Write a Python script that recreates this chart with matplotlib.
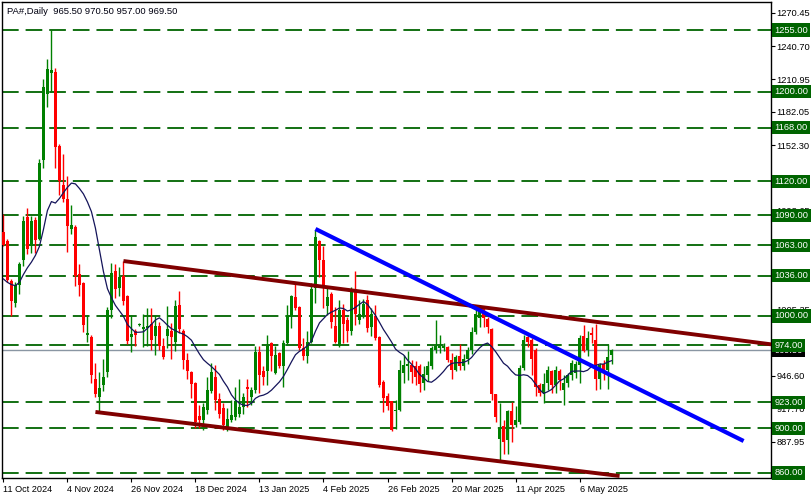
import matplotlib
matplotlib.use("Agg")
import matplotlib.pyplot as plt
import numpy as np
import pandas as pd
from matplotlib.transforms import blended_transform_factory

plt.rcParams["font.family"] = ["Liberation Sans", "DejaVu Sans"]
plt.rcParams["lines.scale_dashes"] = False

# daily OHLC, PA# (palladium), 11 Oct 2024 .. 16 May 2025
opens = [1075, 1067, 1031, 1012, 1028, 1050, 1088, 1062, 1086, 1069,
         1139, 1198, 1217, 1218, 1152, 1117, 1104, 1078, 1079, 1037,
         1029, 983, 981, 944, 928, 938, 950, 1005, 1040, 1025,
         1036, 1018, 981, 987, 992, 988, 989, 993, 982, 991,
         973, 982, 987, 977, 1010, 987, 961, 950, 940, 911,
         907, 916, 933, 946, 926, 918, 899, 907, 910, 913,
         919, 937, 928, 934, 968, 951, 951, 976, 949, 967,
         955, 976, 1000, 1017, 1008, 971, 964, 977, 1025, 1067,
         1050, 1009, 1020, 991, 973, 1005, 996, 987, 1024, 996,
         1001, 1014, 990, 1000, 981, 941, 929, 924, 915, 916,
         949, 955, 956, 955, 955, 940, 947, 955, 970, 971,
         971, 972, 961, 952, 964, 955, 962, 970, 986, 998,
         1006, 997, 988, 930, 890, 902, 889, 915, 903, 905,
         954, 981, 979, 970, 938, 931, 940, 951, 938, 951,
         934, 940, 947, 949, 956, 982, 970, 985, 979, 944,
         957, 952, 965.5]
highs = [1091, 1069, 1033, 1030, 1048, 1089, 1096, 1089, 1088, 1140,
         1211, 1229, 1255, 1221, 1153, 1144, 1125, 1099, 1081, 1046,
         1030, 1001, 983, 958, 950, 962, 1008, 1047, 1046, 1044,
         1049, 1019, 1001, 988, 994, 1002, 1007, 1007, 1001, 995,
         980, 1009, 994, 1014, 1022, 988, 967, 951, 941, 921,
         922, 946, 958, 956, 931, 922, 918, 925, 937, 944,
         931, 944, 937, 973, 973, 955, 983, 977, 973, 968,
         979, 1010, 1019, 1030, 1009, 980, 987, 1029, 1077, 1068,
         1062, 1025, 1021, 1008, 1014, 1011, 999, 1026, 1040, 1014,
         1015, 1019, 1007, 1010, 982, 943, 931, 924, 925, 961,
         965, 969, 961, 960, 957, 955, 960, 973, 996, 983,
         976, 973, 967, 965, 975, 966, 972, 990, 1006, 1008,
         1008, 999, 989, 930, 922, 907, 916, 923, 920, 956,
         983, 984, 980, 971, 940, 949, 955, 952, 955, 953,
         947, 949, 961, 960, 983, 992, 987, 990, 993, 958,
         961, 975, 970.5]
lows = [1062, 1030, 1000, 1008, 1020, 1045, 1055, 1056, 1056, 1068,
        1132, 1186, 1200, 1132, 1108, 1102, 1057, 1073, 1027, 1018,
        986, 977, 940, 928, 914, 933, 946, 998, 1016, 1018,
        1010, 975, 968, 973, 991, 972, 973, 970, 965, 970,
        962, 971, 962, 969, 985, 953, 944, 927, 900, 900,
        898, 913, 931, 916, 909, 898, 897, 905, 907, 910,
        913, 919, 921, 931, 931, 938, 938, 951, 948, 954,
        937, 974, 989, 1005, 970, 961, 958, 976, 1012, 1035,
        1007, 1001, 989, 976, 972, 976, 977, 983, 992, 993,
        998, 986, 982, 979, 937, 914, 916, 897, 899, 915,
        940, 943, 940, 938, 932, 934, 942, 953, 967, 967,
        969, 959, 944, 951, 952, 952, 957, 966, 984, 990,
        990, 985, 925, 905, 870, 877, 877, 888, 901, 904,
        952, 972, 947, 929, 929, 922, 934, 931, 931, 934,
        921, 937, 943, 945, 940, 968, 964, 976, 934, 935,
        943, 935, 957]
closes = [1063, 1032, 1013, 1028, 1046, 1085, 1060, 1085, 1068, 1136,
          1204, 1220, 1219, 1151, 1120, 1104, 1080, 1081, 1036, 1028,
          992, 985, 947, 930, 936, 946, 1005, 1038, 1024, 1035,
          1013, 978, 984, 983, 993, 990, 991, 979, 991, 973,
          963, 988, 981, 1009, 988, 961, 951, 939, 905, 907,
          919, 934, 950, 925, 913, 903, 908, 912, 924, 919,
          928, 935, 934, 968, 947, 946, 973, 964, 965, 955,
          976, 1000, 1018, 1007, 971, 964, 977, 1024, 1070, 1050,
          1025, 1017, 995, 977, 1005, 993, 987, 1022, 1002, 1002,
          1011, 989, 1002, 980, 938, 927, 920, 898, 916, 952,
          956, 957, 950, 946, 939, 948, 955, 971, 973, 973,
          973, 961, 952, 963, 955, 962, 970, 986, 1002, 1004,
          998, 990, 930, 910, 900, 888, 915, 903, 907, 954,
          979, 977, 962, 937, 931, 939, 952, 938, 952, 943,
          940, 947, 958, 957, 980, 969, 980, 983, 944, 956,
          952, 963, 969.5]

# moving average values before 14 bars are available
ma_head = [1033, 1030, 1028, 1027, 1030, 1037, 1043, 1048, 1054, 1062,
           1077, 1094, 1102]
ma_period = 14

levels = [1255, 1200, 1168, 1120, 1090, 1063, 1036, 1000, 974, 923, 900, 860]
price_ticks = [1270.45, 1240.70, 1210.95, 1182.05, 1152.30, 1122.55, 1093.65,
               1063.90, 1034.15, 1005.35, 975.60, 946.60, 917.70, 887.95]
date_pos = [0, 16, 32, 48, 64, 80, 96, 112, 128, 144]
date_labels = ["11 Oct 2024", "4 Nov 2024", "26 Nov 2024", "18 Dec 2024",
               "13 Jan 2025", "4 Feb 2025", "26 Feb 2025", "20 Mar 2025",
               "11 Apr 2025", "6 May 2025"]
last_price = 969.50

# trend lines: (bar, price) pairs
upper_channel = [(30, 1049), (152, 993)]      # ray to the right
lower_channel = [(23, 914.4), (154, 857.3)]
blue_line = [(78, 1077.6), (185, 888.5)]

C_UP = "#008000"; C_DN = "#ff0000"; C_LVL = "#006400"
C_CH = "#800000"; C_BL = "#0000ff"; C_MA = "#14145a"

o = np.array(opens); h = np.array(highs); l = np.array(lows); c = np.array(closes)
x = np.arange(len(c))
ma = pd.Series(c).rolling(ma_period).mean().to_numpy()
ma[:len(ma_head)] = ma_head

W, H = 812, 499
fig = plt.figure(figsize=(W / 100, H / 100), dpi=100)
ax = fig.add_axes([2 / W, 21 / H, 769 / W, 476 / H])
ax.set_xlim(-0.35, 191.85)
ax.set_ylim(855.5, 1280)

# horizontal levels
for lv in levels:
    ax.axhline(lv, color=C_LVL, lw=1.3, dashes=(12, 5), zorder=1)
ax.axhline(last_price, color="#8a96a3", lw=1.0, zorder=1)

# candles
up = c >= o
cols = np.where(up, C_UP, C_DN)
ax.vlines(x, l, h, colors=cols, lw=1.0, zorder=2)
body = np.maximum(np.abs(c - o), 0.9)
ax.bar(x, body, bottom=np.minimum(o, c), width=0.62, color=cols,
       linewidth=0, zorder=3, antialiased=False)

ax.plot(x, ma, color=C_MA, lw=0.9, zorder=4)

# trend lines
(x0, y0), (x1, y1) = upper_channel
slope = (y1 - y0) / (x1 - x0)
xr = 191.85
ax.plot([x0, xr], [y0, y0 + slope * (xr - x0)], color=C_CH, lw=2.8,
        solid_capstyle="butt", zorder=5)
ax.plot(*zip(*lower_channel), color=C_CH, lw=2.8, solid_capstyle="butt", zorder=5)
ax.plot(*zip(*blue_line), color=C_BL, lw=3.0, solid_capstyle="butt", zorder=6)

# axes cosmetics
for s in ax.spines.values():
    s.set_color("black"); s.set_linewidth(1.0)
ax.yaxis.tick_right()
ax.set_yticks(price_ticks)
ax.set_yticklabels([f"{t:.2f}" for t in price_ticks])
ax.tick_params(axis="y", length=3, pad=1.0, labelsize=6.7, colors="black")
ax.set_xticks(date_pos)
ax.set_xticklabels(date_labels)
for lbl in ax.get_xticklabels():
    lbl.set_ha("left")
ax.tick_params(axis="x", length=3, pad=2, labelsize=6.6, colors="black")

# price labels on the right
tr = blended_transform_factory(ax.transAxes, ax.transData)
xl = 1.0 + 3.5 / 769
ax.text(xl, last_price, f"{last_price:.2f}", transform=tr, ha="left",
        va="center", color="white", fontsize=6.7, clip_on=False, zorder=7,
        bbox=dict(boxstyle="square,pad=0.22", fc="black", ec="none"))
for lv in levels:
    ax.text(xl, lv, f"{lv:.2f}", transform=tr, ha="left", va="center",
            color="white", fontsize=6.7, clip_on=False, zorder=8,
            bbox=dict(boxstyle="square,pad=0.22", fc=C_LVL, ec="none"))

fig.text(7 / W, 1 - 11 / H, "PA#,Daily  965.50 970.50 957.00 969.50",
         ha="left", va="center", fontsize=6.8, color="#000010")

fig.savefig("out.png", dpi=100, facecolor="white")
